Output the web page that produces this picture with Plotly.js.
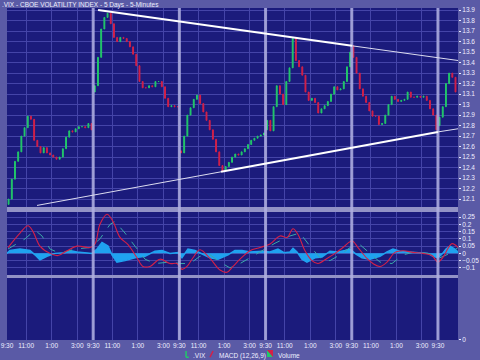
<!DOCTYPE html>
<html>
<head>
<meta charset="utf-8">
<script src="https://cdn.plot.ly/plotly-3.0.1.min.js"></script>
<style>
html,body{margin:0;padding:0;background:#5a5aa6;}
#chart{width:480px;height:360px;}
</style>
</head>
<body>
<div id="chart"></div>
<script>
// ---- DATA ----
// 15-minute closes per trading day (9:30 - 4:15)
const day1Close = [12.10,12.29,12.46,12.55,12.70,12.78,12.89,12.86,12.66,12.60,12.54,12.59,12.54,12.52,12.50,12.48,12.50,12.58,12.69,12.75,12.74,12.77,12.79,12.79,12.78,12.82,12.76];
const day2Close = [13.18,13.45,13.72,13.83,13.87,13.77,13.64,13.60,13.64,13.63,13.60,13.55,13.48,13.37,13.22,13.16,13.16,13.18,13.17,13.22,13.22,13.17,13.06,12.98,12.99,12.98,12.98];
const day3Close = [12.54,12.70,12.90,12.97,13.05,13.09,13.01,12.93,12.85,12.76,12.67,12.55,12.42,12.37,12.41,12.45,12.50,12.53,12.52,12.55,12.58,12.62,12.66,12.68,12.70,12.71,12.73];
const day4Close = [12.85,12.75,12.98,13.18,13.10,13.00,13.22,13.35,13.63,13.42,13.36,13.28,13.12,13.04,13.06,13.02,12.92,12.96,12.99,13.03,13.10,13.17,13.14,13.15,13.22,13.36,13.50];
const day5Close = [13.45,13.30,13.15,13.08,13.02,12.94,12.89,12.89,12.81,12.82,12.90,13.00,13.08,13.05,13.03,13.04,13.05,13.12,13.07,13.07,13.08,13.07,13.08,13.04,12.96,12.90,12.76];
const day6Close = [12.88,12.98,13.20,13.30,13.26,13.12];
const dayOpen   = [12.05,13.12,12.56,12.76,13.56,12.80];

// MACD (12,26,9) – x in trading hours since first open
const macdX   = [0.08,1.02,1.64,2.04,2.58,3.37,3.99,4.70,5.48,6.50,6.89,7.28,7.83,8.30,8.85,9.48,10.18,10.65,11.20,11.98,12.76,13.31,13.70,14.10,14.57,15.11,15.90,16.68,17.23,17.70,18.25,19.03,19.81,20.60,21.38,21.93,22.40,22.79,23.34,23.88,24.35,25.06,25.69,26.31,27.02,27.49,28.19,28.66,29.21,29.76,30.38,31.01,31.79,32.58,33.28,33.75,34.14,34.85,35.32];
const macdVal = [0.04,0.14,0.19,0.15,0.05,0.0,-0.015,0.018,0.05,0.04,0.065,0.2,0.27,0.22,0.11,0.06,-0.03,-0.09,-0.09,-0.04,-0.07,-0.07,-0.11,-0.09,-0.03,0.025,-0.035,-0.115,-0.13,-0.09,-0.04,0.018,0.04,0.065,0.12,0.11,0.17,0.13,0.018,-0.05,-0.07,-0.035,0.0,0.04,0.085,0.04,-0.035,-0.07,-0.09,-0.06,0.007,0.018,0.007,0.0,-0.015,-0.06,-0.027,0.067,0.04];
const signalX   = [0.08,1.41,2.19,2.74,3.37,4.15,5.32,6.50,7.28,8.07,8.46,9.24,10.02,10.81,11.59,12.76,13.55,14.33,15.11,15.90,16.68,17.46,18.25,19.03,19.97,20.99,22.16,22.94,23.73,24.51,25.29,26.08,27.02,27.64,28.43,29.21,30.15,31.01,31.95,32.97,33.91,34.69,35.32];
const signalVal = [0.03,0.10,0.16,0.12,0.03,0.0,0.03,0.04,0.10,0.20,0.22,0.14,0.05,-0.04,-0.07,-0.06,-0.07,-0.07,-0.02,-0.01,-0.06,-0.10,-0.07,-0.03,0.02,0.07,0.12,0.14,0.05,-0.03,-0.05,-0.01,0.05,0.06,0.0,-0.06,-0.07,-0.01,0.01,0.0,-0.03,0.0,0.04];
const histX   = [0,0.23,1.02,1.80,2.19,2.58,3.13,3.76,4.54,4.93,5.48,6.11,6.66,7.05,7.44,7.91,8.22,8.61,9.24,10.02,10.81,11.59,12.14,12.76,13.39,13.70,14.17,14.72,15.11,15.90,16.52,17.31,17.85,18.40,19.03,19.97,20.60,21.22,21.69,22.16,22.40,22.71,23.10,23.49,24.12,24.67,25.29,25.92,26.47,26.86,27.33,27.80,28.43,29.21,29.76,30.23,30.77,31.56,32.34,32.97,33.36,33.75,34.07,34.38,34.69,35.08,35.32];
const histVal = [0,0.02,0.03,0.02,-0.01,-0.045,-0.02,0.0,0.005,0.02,0.01,0.005,0.0,0.03,0.075,0.05,-0.01,-0.06,-0.05,-0.03,-0.02,0.015,0.02,0.0,0.005,-0.03,0.03,0.02,0.005,-0.03,-0.04,-0.01,0.02,0.02,0.01,0.015,0.01,0.03,0.005,0.01,0.035,0.01,-0.04,-0.06,-0.03,-0.025,0.015,0.01,0.02,0.03,-0.005,-0.03,-0.04,-0.02,0.01,0.03,0.015,0.01,0.005,0.0,-0.02,-0.03,-0.005,0.03,0.05,0.03,0.01];

// Trendlines [x(hours), value]
const upperTrend = [[7.13,13.90],[27.02,13.56],[35.32,13.42]];
const lowerTrend = [[2.35,12.04],[16.76,12.36],[33.75,12.74],[35.32,12.77]];

// Axis tick labels
const sessionTickHours = [0,1.5,3.5,5.5];
const sessionTickText  = ['9:30','11:00','1:00','3:00'];
const priceTicks = [12.1,12.2,12.3,12.4,12.5,12.6,12.7,12.8,12.9,13.0,13.1,13.2,13.3,13.4,13.5,13.6,13.7,13.8,13.9];
const macdTicks  = [-0.1,-0.05,0,0.05,0.1,0.15,0.2,0.25];

// ---- BUILD ----
const DAY = 6.75, SLOT = 0.25;
const days = [day1Close,day2Close,day3Close,day4Close,day5Close,day6Close];
const cx=[],co=[],ch=[],cl=[],cc=[];
days.forEach((arr,d)=>{
  arr.forEach((c,k)=>{
    const o = k===0 ? dayOpen[d] : arr[k-1];
    cx.push(d*DAY+(k+0.5)*SLOT); co.push(o); cc.push(c);
    ch.push(Math.max(o,c)); cl.push(Math.min(o,c));
  });
});
const xTickVals=[], xTickText=[];
for(let d=0; d<6; d++){
  sessionTickHours.forEach((h,i)=>{
    const v=d*DAY+h;
    if(v<=34){xTickVals.push(v); xTickText.push(sessionTickText[i]);}
  });
}

const GREEN='#22c86a', RED='#d42048';
const traces = [
  {type:'candlestick', x:cx, open:co, high:ch, low:cl, close:cc, xaxis:'x', yaxis:'y',
   increasing:{line:{color:GREEN,width:1},fillcolor:GREEN},
   decreasing:{line:{color:RED,width:1},fillcolor:RED},
   whiskerwidth:0, showlegend:false, hoverinfo:'skip'},
  {type:'scatter', mode:'lines', x:histX, y:histVal, xaxis:'x', yaxis:'y2',
   fill:'tozeroy', fillcolor:'#1fa2f0', line:{color:'#1fa2f0',width:1.5}, showlegend:false, hoverinfo:'skip'},
  {type:'scatter', mode:'lines', x:signalX, y:signalVal, xaxis:'x', yaxis:'y2',
   line:{color:'#3aa8a8',width:1,dash:'dash'}, showlegend:false, hoverinfo:'skip'},
  {type:'scatter', mode:'lines', x:macdX, y:macdVal, xaxis:'x', yaxis:'y2',
   line:{color:RED,width:1.1,shape:'spline'}, showlegend:false, hoverinfo:'skip'},
  {type:'bar', x:[], y:[], xaxis:'x', yaxis:'y3', showlegend:false}
];

const GRID='#4444a8', TXT='#eeeeff';
const FONT={family:'"Liberation Sans", Arial, sans-serif', size:6.5, color:TXT};
const shapes=[];
// panel separators
shapes.push({type:'rect',xref:'paper',yref:'paper',x0:0,x1:1,y0:0.3855,y1:0.4006,fillcolor:'#9292c6',line:{width:0},layer:'below'});
shapes.push({type:'rect',xref:'paper',yref:'paper',x0:0,x1:1,y0:0.1867,y1:0.1958,fillcolor:'#9292c6',line:{width:0},layer:'below'});
// day separators
for(let d=1; d<6; d++){
  shapes.push({type:'line',xref:'x',yref:'paper',x0:d*DAY,x1:d*DAY,y0:0,y1:1,line:{color:'rgba(175,175,225,0.85)',width:3},layer:'above'});
}
// trendlines
shapes.push({type:'line',xref:'x',yref:'y',x0:upperTrend[0][0],y0:upperTrend[0][1],x1:upperTrend[1][0],y1:upperTrend[1][1],line:{color:'#ffffff',width:2},layer:'above'});
shapes.push({type:'line',xref:'x',yref:'y',x0:upperTrend[1][0],y0:upperTrend[1][1],x1:upperTrend[2][0],y1:upperTrend[2][1],line:{color:'#dcdcf0',width:1},layer:'above'});
shapes.push({type:'line',xref:'x',yref:'y',x0:lowerTrend[0][0],y0:lowerTrend[0][1],x1:lowerTrend[1][0],y1:lowerTrend[1][1],line:{color:'#dcdcf0',width:1},layer:'above'});
shapes.push({type:'line',xref:'x',yref:'y',x0:lowerTrend[1][0],y0:lowerTrend[1][1],x1:lowerTrend[2][0],y1:lowerTrend[2][1],line:{color:'#ffffff',width:2},layer:'above'});
shapes.push({type:'line',xref:'x',yref:'y',x0:lowerTrend[2][0],y0:lowerTrend[2][1],x1:lowerTrend[3][0],y1:lowerTrend[3][1],line:{color:'#dcdcf0',width:1},layer:'above'});
// legend icons
shapes.push({type:'line',xref:'paper',yref:'paper',x0:0.397,x1:0.397,y0:-0.033,y1:-0.052,line:{color:GREEN,width:1.5}});
shapes.push({type:'line',xref:'paper',yref:'paper',x0:0.397,x1:0.403,y0:-0.052,y1:-0.052,line:{color:GREEN,width:1.5}});
shapes.push({type:'line',xref:'paper',yref:'paper',x0:0.4501,x1:0.4568,y0:-0.052,y1:-0.033,line:{color:RED,width:1.5}});
shapes.push({type:'path',xref:'paper',yref:'paper',path:'M0.5765,-0.0301 L0.5765,-0.0512 L0.5898,-0.0512 Z',fillcolor:GREEN,line:{width:0}});
shapes.push({type:'path',xref:'paper',yref:'paper',path:'M0.5765,-0.0301 L0.5898,-0.0301 L0.5898,-0.0512 Z',fillcolor:RED,line:{width:0}});

const annotations=[
  {xref:'paper',yref:'paper',x:0.408,y:-0.048,text:'.VIX',showarrow:false,xanchor:'left',yanchor:'middle',font:FONT},
  {xref:'paper',yref:'paper',x:0.465,y:-0.048,text:'MACD (12,26,9)',showarrow:false,xanchor:'left',yanchor:'middle',font:FONT},
  {xref:'paper',yref:'paper',x:0.596,y:-0.048,text:'Volume',showarrow:false,xanchor:'left',yanchor:'middle',font:FONT}
];

const layout = {
  width:480, height:360,
  paper_bgcolor:'#5a5aa6', plot_bgcolor:'#1b1b7c',
  margin:{l:7,r:22,t:8,b:20},
  font:FONT,
  showlegend:false,
  boxgap:0.6,
  title:{text:'.VIX - CBOE VOLATILITY INDEX - 5 Days - 5-Minutes', xref:'container', yref:'container', x:0.004, xanchor:'left', y:0.986, yanchor:'middle', font:FONT},
  xaxis:{domain:[0,1], anchor:'y3', range:[0,35.32], tickvals:xTickVals, ticktext:xTickText,
         showgrid:true, gridcolor:GRID, gridwidth:1, zeroline:false, showline:false, ticks:'',
         rangeslider:{visible:false}, tickfont:FONT, fixedrange:true},
  yaxis:{domain:[0.4006,1], side:'right', anchor:'x', range:[12.025,13.92], tickvals:priceTicks,
         showgrid:true, gridcolor:GRID, zeroline:false, ticks:'outside', ticklen:2, tickcolor:TXT, tickfont:FONT},
  yaxis2:{domain:[0.1958,0.3855], side:'right', anchor:'x', range:[-0.149,0.285], tickvals:macdTicks,
         showgrid:true, gridcolor:GRID, zeroline:false, ticks:'outside', ticklen:2, tickcolor:TXT, tickfont:FONT},
  yaxis3:{domain:[0,0.1867], side:'right', anchor:'x', range:[0,1], tickvals:[0],
         showgrid:false, zeroline:false, ticks:'outside', ticklen:2, tickcolor:TXT, tickfont:FONT},
  shapes:shapes, annotations:annotations
};

Plotly.newPlot('chart', traces, layout, {staticPlot:true, displayModeBar:false});
</script>
</body>
</html>
